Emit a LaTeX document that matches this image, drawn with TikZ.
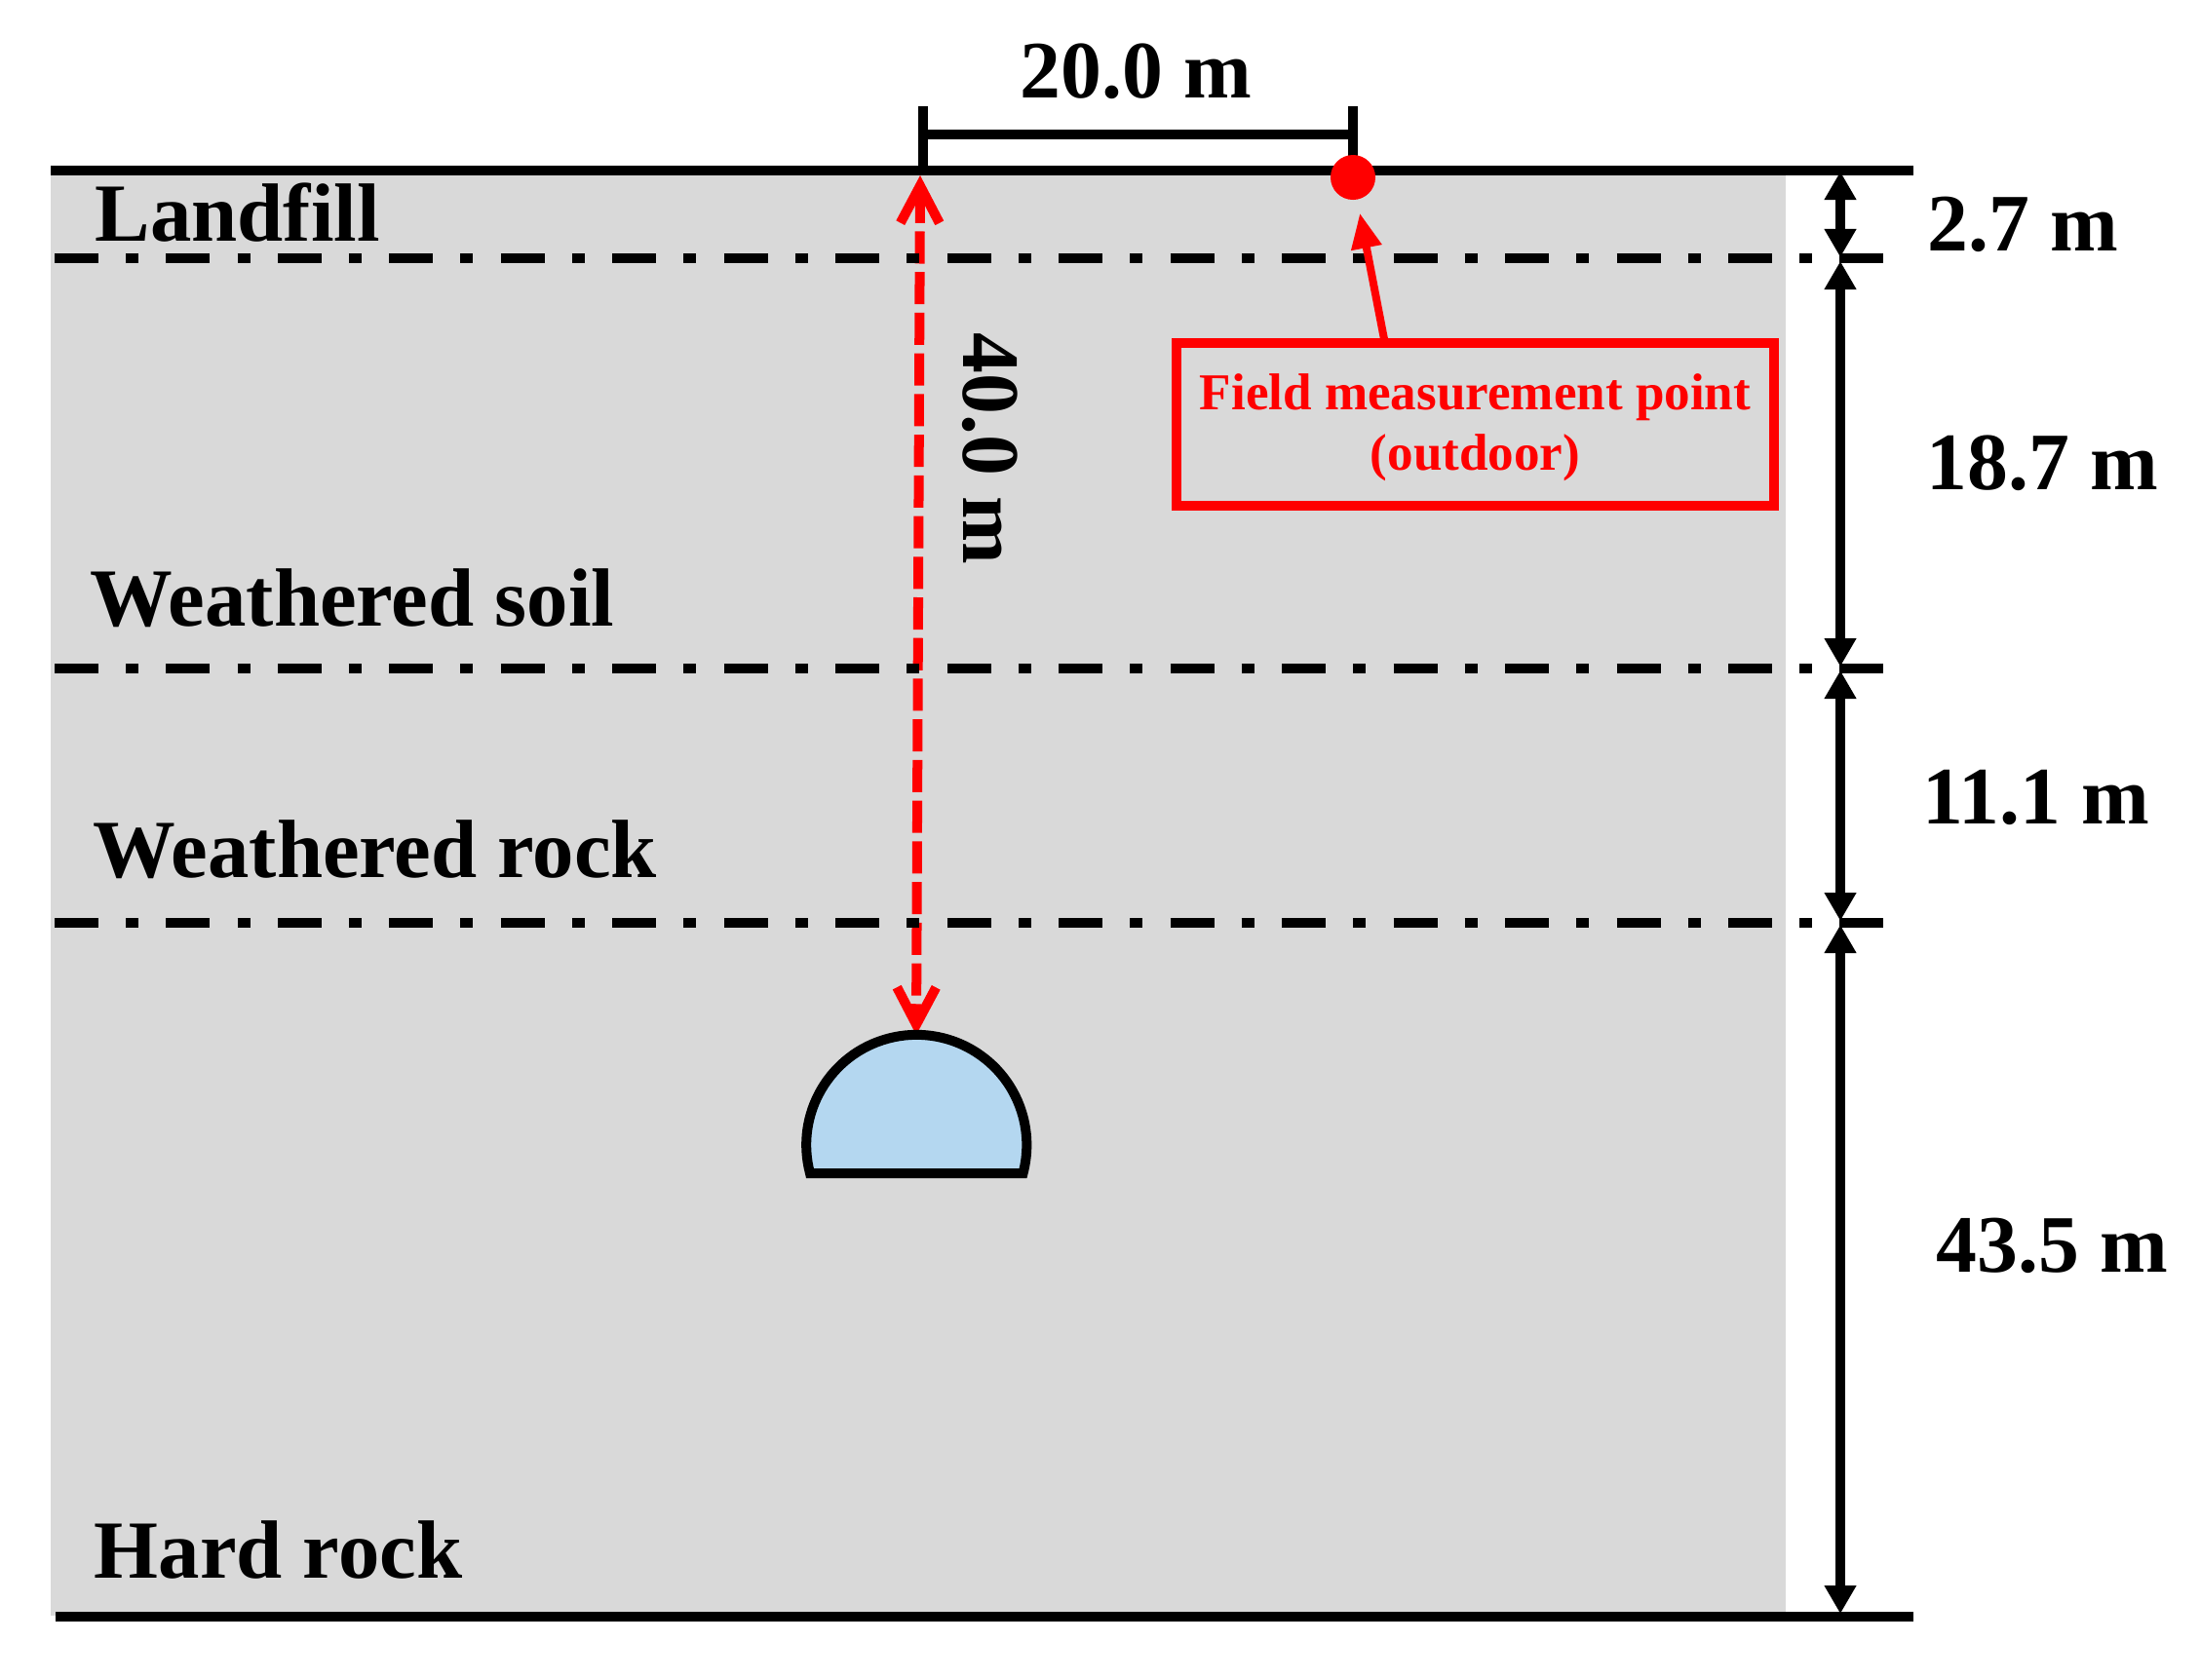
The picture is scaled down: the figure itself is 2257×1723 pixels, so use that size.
\documentclass[tikz,border=0pt]{standalone}
\usepackage{fontspec}
\usepackage{xcolor}
\setmainfont[Ligatures=NoCommon]{Liberation Serif}
\usetikzlibrary{arrows.meta}
\definecolor{RockGray}{HTML}{D9D9D9}
\definecolor{TunnelBlue}{HTML}{B4D7F0}
\definecolor{PointRed}{HTML}{FF0000}
\begin{document}
\begin{tikzpicture}[x=0.01cm,y=-0.01cm,
        layerlabel/.style={anchor=base west, inner sep=0pt, font=\bfseries\fontsize{24.1}{24}\selectfont},
        dimlabel/.style={anchor=base west, inner sep=0pt, font=\bfseries\fontsize{23.8}{24}\selectfont},
        heavy/.style={line width=0.1cm},
        boundary/.style={heavy, dash pattern=on 0.45cm off 0.28cm on 0.13cm off 0.284cm},
        dimarrow/.style={heavy, {Triangle[length=0.29cm,width=0.31cm]}-{Triangle[length=0.29cm,width=0.31cm]}}]
    \useasboundingbox (0,0) rectangle (2257,1723);
    \fill[RockGray] (52,175) rectangle (1832,1658);

    \coordinate (surface) at (944,180);
    \coordinate (crown) at (940,1062);
    \draw[heavy, PointRed, dash pattern=on 0.33cm off 0.087cm, {Straight Barb[length=0.38cm,width=0.4cm,line width=0.1cm]}-{Straight Barb[length=0.38cm,width=0.4cm,line width=0.1cm]}] (surface) -- (crown);

    \foreach \y/\name in {265/top, 686/mid, 947/low} {
        \coordinate (\name west) at (56,\y);
        \coordinate (\name east) at (1932,\y);
        \draw[boundary] (\name west) -- (\name east);
    }

    \coordinate (groundl) at (52,175);
    \coordinate (groundr) at (1963,175);
    \coordinate (basel) at (57,1659);
    \coordinate (baser) at (1963,1659);
    \draw[heavy] (groundl) -- (groundr);
    \draw[heavy] (basel) -- (baser);

    \coordinate (spanl) at (947,109);
    \coordinate (spanr) at (1388,109);
    \draw[heavy] (spanl) -- (947,175);
    \draw[heavy] (spanr) -- (1388,175);
    \draw[heavy] (947,137.5) -- (1388,137.5);

    \draw[heavy, fill=TunnelBlue] (831,1204) arc[start angle=194.9, end angle=-14.9, radius=1.13cm] -- cycle;

    \node[circle, fill=PointRed, inner sep=0pt, minimum size=0.46cm] (meas) at (1388,182) {};
    \node[draw=PointRed, heavy, minimum width=6.13cm, minimum height=1.67cm, align=center, text=PointRed, text height=1.05cm,
        font=\bfseries\fontsize{15.1}{17.6}\selectfont] (measbox) at (1513.5,435.5) {Field measurement point\\(outdoor)};
    \coordinate (measfoot) at (1420,348);
    \draw[line width=0.08cm, PointRed, -{Triangle[length=0.36cm,width=0.3cm]}, shorten >=0.137cm] (measfoot) -- (meas);

    \coordinate (d0) at (1888,176);
    \coordinate (d1) at (1888,264);
    \coordinate (d2) at (1888,268);
    \coordinate (d3) at (1888,684);
    \coordinate (d4) at (1888,688);
    \coordinate (d5) at (1888,945);
    \coordinate (d6) at (1888,949);
    \coordinate (d7) at (1888,1656);
    \draw[dimarrow] (d0) -- (d1);
    \draw[dimarrow] (d2) -- (d3);
    \draw[dimarrow] (d4) -- (d5);
    \draw[dimarrow] (d6) -- (d7);

    \node[layerlabel] (landfill) at (97,247) {Landfill};
    \node[layerlabel] (soil) at (92,642) {Weathered soil};
    \node[layerlabel] (rock) at (95,900) {Weathered rock};
    \node[layerlabel] (hard) at (96,1619) {Hard rock};
    \node[dimlabel] (span) at (1046,100) {20.0 m};
    \node[dimlabel, rotate=-90] (depth) at (988,341) {40.0 m};
    \node[dimlabel] (thick1) at (1977,257) {2.7 m};
    \node[dimlabel] (thick2) at (1976,502) {18.7 m};
    \node[dimlabel] (thick3) at (1972,845) {11.1 m};
    \node[dimlabel] (thick4) at (1986,1305) {43.5 m};
\end{tikzpicture}
\end{document}
